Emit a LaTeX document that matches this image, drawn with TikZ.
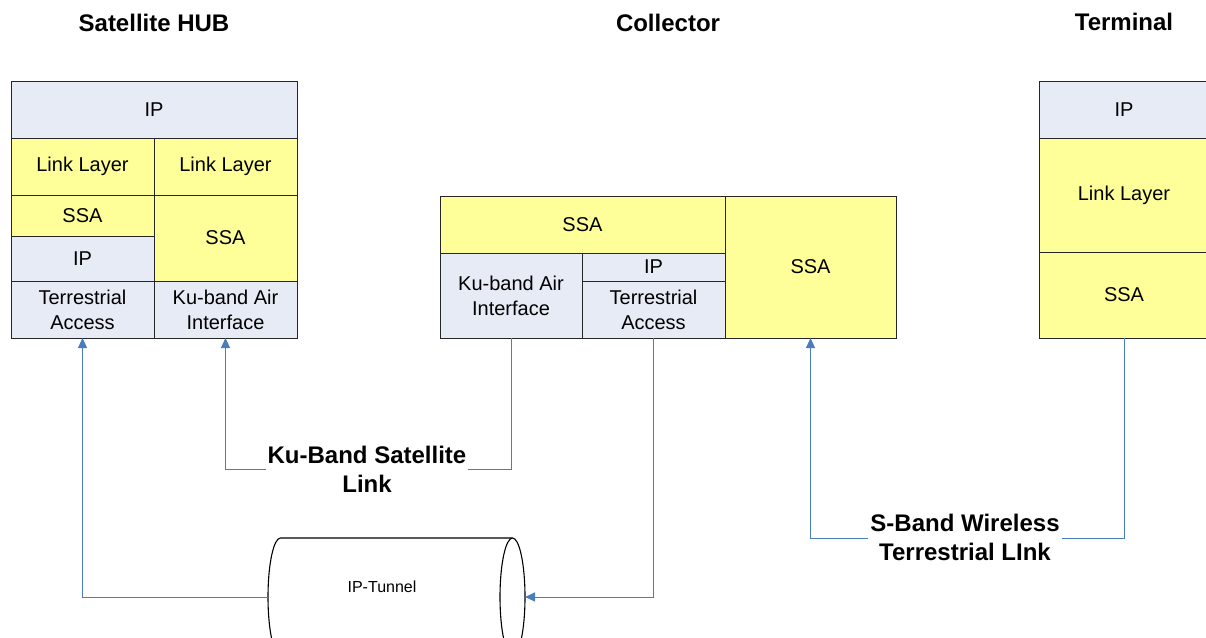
\documentclass[tikz,border=0pt]{standalone}
\usepackage{fontspec}
\setmainfont{Liberation Sans}
\usetikzlibrary{arrows.meta}
\definecolor{lblue}{RGB}{230,235,245}
\definecolor{lyellow}{RGB}{255,255,153}
\definecolor{linkblue}{RGB}{74,126,187}
\begin{document}
\begin{tikzpicture}[x=1pt,y=-1pt,
  lb/.style={draw=black!85, line width=0.9pt, inner sep=0pt, outer sep=0pt, align=center,
    font=\fontsize{20}{25}\selectfont},
  bl/.style={lb, fill=lblue},
  ye/.style={lb, fill=lyellow},
  ttl/.style={font=\fontsize{24}{28}\selectfont\bfseries},
  lnk/.style={draw=linkblue, line width=1pt},
  arr/.style={lnk, -{Triangle[length=10pt,width=9pt]}},
  lbl/.style={fill=white, inner sep=2pt, align=center, font=\fontsize{24}{29}\selectfont\bfseries},
  cyl/.style={draw=black, line width=1.1pt, fill=white}
]
\useasboundingbox (0,0) rectangle (1206,637);

% titles
\node[ttl] (t1) at (154,23) {Satellite HUB};
\node[ttl] (t2) at (668,23) {Collector};
\node[ttl] (t3) at (1124,22) {Terminal};

% Satellite HUB
\node[bl, minimum width=286, minimum height=57] (hIP) at (154,109.5) {IP};
\node[ye, minimum width=143, minimum height=57] (hLL1) at (82.5,166.5) {Link Layer};
\node[ye, minimum width=143, minimum height=57] (hLL2) at (225.5,166.5) {Link Layer};
\node[ye, minimum width=143, minimum height=41] (hSSA1) at (82.5,215.5) {SSA};
\node[bl, minimum width=143, minimum height=45] (hIP2) at (82.5,258.5) {IP};
\node[ye, minimum width=143, minimum height=86] (hSSA2) at (225.5,238) {SSA};
\node[bl, minimum width=143, minimum height=57] (hTA) at (82.5,309.5) {Terrestrial\\Access};
\node[bl, minimum width=143, minimum height=57] (hKu) at (225.5,309.5) {Ku-band Air\\Interface};

% Collector
\node[ye, minimum width=285, minimum height=57] (cSSA1) at (582.5,224.5) {SSA};
\node[bl, minimum width=142, minimum height=85] (cKu) at (511,295.5) {Ku-band Air\\Interface};
\node[bl, minimum width=143, minimum height=28] (cIP) at (653.5,267) {IP};
\node[bl, minimum width=143, minimum height=57] (cTA) at (653.5,309.5) {Terrestrial\\Access};
\node[ye, minimum width=171, minimum height=142] (cSSA2) at (810.5,267) {SSA};

% Terminal
\node[bl, minimum width=170, minimum height=57] (tIP) at (1124,109.5) {IP};
\node[ye, minimum width=170, minimum height=114] (tLL) at (1124,195) {Link Layer};
\node[ye, minimum width=170, minimum height=86] (tSSA) at (1124,295) {SSA};

% IP tunnel (cylinder drawn directly, named bounding node for connectors)
\draw[cyl] (512.5,538) -- (280.5,538)
  arc[start angle=270, end angle=90, x radius=12.5, y radius=59] -- (512.5,656);
\draw[cyl] (512.5,597) ellipse[x radius=12.5, y radius=59];
\node[minimum width=257, minimum height=118, inner sep=0pt, outer sep=0pt] (tun) at (396.5,597) {};
\node[font=\fontsize{16}{19}\selectfont] (tunTxt) at (382,587) {IP-Tunnel};

% coordinates for link routes
\coordinate (kuY) at (0,469);
\coordinate (sbY) at (0,538);

% connectors
\draw[arr] (tun.west) -| (hTA.south);
\draw[arr] (cTA.south) |- (tun.east);
\draw[arr] (cKu.south) |- (hKu.south |- kuY) -- (hKu.south);
\draw[arr] (tSSA.south) |- (cSSA2.south |- sbY) -- (cSSA2.south);

% link labels
\node[lbl] (kuLbl) at (367,469) {Ku-Band Satellite\\Link};
\node[lbl] (sbLbl) at (965,537) {S-Band Wireless\\Terrestrial LInk};
\end{tikzpicture}
\end{document}
